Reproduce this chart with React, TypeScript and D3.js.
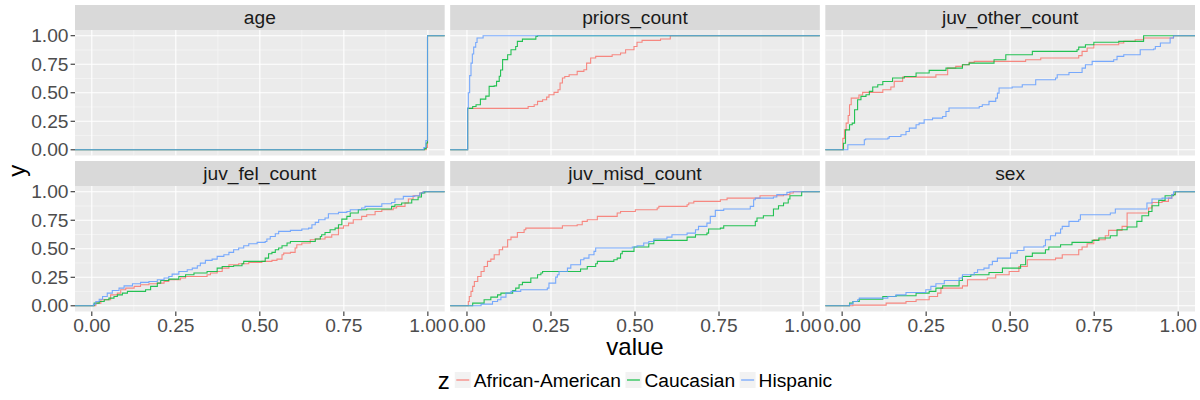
import { useEffect, useRef } from 'react';
import * as d3 from 'd3';

const facets = ['age', 'priors_count', 'juv_other_count', 'juv_fel_count', 'juv_misd_count', 'sex'];
const groups = ['African-American', 'Caucasian', 'Hispanic'];
const groupColors = ['#F8766D', '#00BA38', '#619CFF'];
const tickValues = [0, 0.25, 0.5, 0.75, 1];
const tickLabels = ['0.00', '0.25', '0.50', '0.75', '1.00'];
const minorValues = [0.125, 0.375, 0.625, 0.875];

// ecdf jumps: [value, y after the jump]
const ageAfrican = [[0.995, 0.02], [0.999, 1]];
const ageCaucasian = [[0.99, 0.01], [0.995, 0.06], [0.999, 1]];
const ageHispanic = [[0.988, 0.02], [0.994, 0.08], [0.999, 1]];

const priorsAfrican = [[0.002, 0.363], [0.182, 0.38], [0.2, 0.395], [0.21, 0.424], [0.225, 0.439], [0.237, 0.462], [0.244, 0.482], [0.259, 0.503], [0.271, 0.526], [0.277, 0.585], [0.284, 0.629], [0.291, 0.643], [0.304, 0.658], [0.328, 0.687], [0.348, 0.702], [0.356, 0.76], [0.368, 0.804], [0.383, 0.819], [0.432, 0.833], [0.457, 0.848], [0.472, 0.877], [0.497, 0.906], [0.506, 0.942], [0.521, 0.959], [0.576, 0.971], [0.605, 1]];
const priorsCaucasian = [[0.002, 0.363], [0.017, 0.38], [0.027, 0.395], [0.04, 0.444], [0.056, 0.47], [0.066, 0.556], [0.081, 0.56], [0.088, 0.6], [0.096, 0.645], [0.1, 0.7], [0.106, 0.79], [0.121, 0.833], [0.131, 0.877], [0.145, 0.906], [0.15, 0.95], [0.165, 0.97], [0.205, 0.994], [0.21, 1]];
const priorsHispanic = [[0.002, 0.363], [0.004, 0.5], [0.008, 0.65], [0.012, 0.76], [0.016, 0.84], [0.02, 0.9], [0.026, 0.94], [0.03, 0.98], [0.048, 1]];

const juvOtherAfrican = [[0.002, 0.1], [0.007, 0.175], [0.012, 0.234], [0.018, 0.3], [0.022, 0.395], [0.027, 0.453], [0.05, 0.48], [0.061, 0.503], [0.121, 0.526], [0.145, 0.55], [0.155, 0.6], [0.18, 0.637], [0.279, 0.658], [0.314, 0.716], [0.338, 0.731], [0.358, 0.746], [0.378, 0.766], [0.393, 0.775], [0.546, 0.789], [0.591, 0.804], [0.704, 0.825], [0.714, 0.863], [0.729, 0.892], [0.749, 0.921], [0.823, 0.936], [0.838, 0.95], [0.872, 0.965], [0.897, 0.98], [0.986, 1]];
const juvOtherCaucasian = [[0.004, 0.058], [0.01, 0.175], [0.022, 0.219], [0.03, 0.234], [0.037, 0.351], [0.046, 0.439], [0.056, 0.468], [0.071, 0.482], [0.081, 0.512], [0.091, 0.55], [0.106, 0.57], [0.121, 0.599], [0.15, 0.629], [0.185, 0.643], [0.22, 0.673], [0.259, 0.696], [0.309, 0.716], [0.358, 0.746], [0.378, 0.76], [0.452, 0.789], [0.487, 0.833], [0.566, 0.863], [0.699, 0.877], [0.704, 0.9], [0.724, 0.921], [0.749, 0.942], [0.823, 0.95], [0.897, 1]];
const juvOtherHispanic = [[0.017, 0.044], [0.066, 0.088], [0.07, 0.094], [0.136, 0.102], [0.14, 0.117], [0.175, 0.132], [0.19, 0.161], [0.2, 0.19], [0.22, 0.219], [0.229, 0.234], [0.244, 0.263], [0.269, 0.278], [0.299, 0.292], [0.309, 0.336], [0.318, 0.366], [0.408, 0.38], [0.417, 0.395], [0.437, 0.424], [0.457, 0.453], [0.462, 0.497], [0.467, 0.541], [0.506, 0.55], [0.536, 0.57], [0.576, 0.614], [0.635, 0.629], [0.64, 0.658], [0.675, 0.678], [0.714, 0.716], [0.724, 0.746], [0.744, 0.775], [0.808, 0.789], [0.818, 0.819], [0.838, 0.833], [0.887, 0.877], [0.927, 0.883], [0.932, 0.906], [0.947, 0.936], [0.976, 0.98], [0.986, 1]];

const juvFelAfrican = [[0.012, 0.023], [0.027, 0.053], [0.056, 0.096], [0.076, 0.111], [0.086, 0.14], [0.101, 0.155], [0.126, 0.17], [0.145, 0.184], [0.17, 0.193], [0.195, 0.199], [0.215, 0.213], [0.229, 0.228], [0.264, 0.243], [0.279, 0.257], [0.343, 0.272], [0.353, 0.287], [0.373, 0.301], [0.388, 0.33], [0.408, 0.36], [0.437, 0.368], [0.467, 0.38], [0.506, 0.389], [0.536, 0.398], [0.551, 0.409], [0.566, 0.447], [0.571, 0.462], [0.591, 0.468], [0.605, 0.506], [0.61, 0.535], [0.625, 0.55], [0.65, 0.579], [0.665, 0.585], [0.694, 0.602], [0.714, 0.623], [0.734, 0.681], [0.749, 0.702], [0.764, 0.725], [0.778, 0.754], [0.803, 0.784], [0.818, 0.798], [0.843, 0.827], [0.863, 0.842], [0.897, 0.857], [0.907, 0.871], [0.932, 0.901], [0.942, 0.936], [0.956, 0.965], [0.976, 0.988], [0.986, 1]];
const juvFelCaucasian = [[0.007, 0.023], [0.022, 0.038], [0.037, 0.053], [0.051, 0.067], [0.066, 0.082], [0.076, 0.096], [0.091, 0.111], [0.106, 0.126], [0.16, 0.14], [0.175, 0.17], [0.195, 0.199], [0.205, 0.222], [0.229, 0.234], [0.259, 0.257], [0.279, 0.272], [0.304, 0.287], [0.343, 0.301], [0.373, 0.33], [0.388, 0.345], [0.422, 0.351], [0.447, 0.368], [0.452, 0.389], [0.516, 0.418], [0.526, 0.456], [0.536, 0.468], [0.546, 0.491], [0.556, 0.506], [0.566, 0.526], [0.581, 0.55], [0.591, 0.564], [0.665, 0.585], [0.68, 0.608], [0.684, 0.623], [0.694, 0.643], [0.709, 0.667], [0.724, 0.681], [0.734, 0.711], [0.744, 0.76], [0.759, 0.784], [0.769, 0.813], [0.793, 0.842], [0.818, 0.848], [0.892, 0.871], [0.902, 0.886], [0.922, 0.901], [0.952, 0.93], [0.971, 0.953], [0.981, 0.988], [0.991, 1]];
const juvFelHispanic = [[0.005, 0.015], [0.012, 0.038], [0.022, 0.058], [0.032, 0.082], [0.046, 0.111], [0.061, 0.134], [0.081, 0.155], [0.096, 0.175], [0.121, 0.193], [0.145, 0.205], [0.17, 0.213], [0.195, 0.228], [0.215, 0.243], [0.229, 0.257], [0.239, 0.278], [0.259, 0.301], [0.284, 0.316], [0.299, 0.33], [0.314, 0.351], [0.323, 0.374], [0.338, 0.398], [0.358, 0.409], [0.373, 0.433], [0.393, 0.447], [0.408, 0.468], [0.422, 0.491], [0.437, 0.506], [0.452, 0.526], [0.467, 0.544], [0.492, 0.556], [0.516, 0.564], [0.521, 0.585], [0.531, 0.608], [0.546, 0.632], [0.556, 0.652], [0.591, 0.661], [0.625, 0.673], [0.645, 0.681], [0.655, 0.711], [0.665, 0.731], [0.675, 0.754], [0.694, 0.769], [0.704, 0.807], [0.734, 0.819], [0.759, 0.827], [0.769, 0.842], [0.803, 0.857], [0.813, 0.871], [0.863, 0.895], [0.892, 0.906], [0.902, 0.936], [0.927, 0.959], [0.961, 0.965], [0.976, 0.988], [0.986, 1]];

const juvMisdAfrican = [[0.004, 0.038], [0.007, 0.082], [0.012, 0.126], [0.017, 0.17], [0.022, 0.213], [0.032, 0.257], [0.042, 0.301], [0.051, 0.345], [0.061, 0.389], [0.071, 0.409], [0.081, 0.447], [0.096, 0.491], [0.106, 0.515], [0.121, 0.579], [0.131, 0.602], [0.15, 0.643], [0.17, 0.667], [0.175, 0.681], [0.284, 0.702], [0.328, 0.711], [0.343, 0.74], [0.358, 0.754], [0.388, 0.784], [0.447, 0.813], [0.457, 0.827], [0.501, 0.842], [0.566, 0.857], [0.571, 0.871], [0.655, 0.886], [0.66, 0.901], [0.675, 0.915], [0.754, 0.93], [0.774, 0.944], [0.872, 0.965], [0.942, 0.974], [0.961, 0.988], [0.971, 1]];
const juvMisdCaucasian = [[0.017, 0.023], [0.051, 0.053], [0.071, 0.076], [0.091, 0.096], [0.101, 0.111], [0.136, 0.134], [0.145, 0.155], [0.155, 0.184], [0.165, 0.205], [0.19, 0.243], [0.21, 0.272], [0.22, 0.287], [0.225, 0.301], [0.338, 0.322], [0.358, 0.345], [0.383, 0.368], [0.388, 0.389], [0.437, 0.404], [0.447, 0.418], [0.457, 0.456], [0.462, 0.477], [0.497, 0.515], [0.541, 0.544], [0.556, 0.573], [0.655, 0.602], [0.68, 0.623], [0.714, 0.637], [0.719, 0.673], [0.754, 0.681], [0.764, 0.702], [0.858, 0.74], [0.863, 0.769], [0.882, 0.789], [0.912, 0.848], [0.927, 0.877], [0.942, 0.901], [0.956, 0.936], [0.961, 0.965], [0.996, 1]];
const juvMisdHispanic = [[0.042, 0.015], [0.076, 0.038], [0.091, 0.053], [0.101, 0.076], [0.116, 0.111], [0.131, 0.126], [0.16, 0.14], [0.239, 0.155], [0.244, 0.199], [0.264, 0.251], [0.269, 0.272], [0.274, 0.301], [0.299, 0.33], [0.309, 0.36], [0.338, 0.404], [0.348, 0.418], [0.363, 0.447], [0.378, 0.477], [0.383, 0.506], [0.492, 0.515], [0.506, 0.526], [0.526, 0.55], [0.541, 0.564], [0.556, 0.585], [0.595, 0.602], [0.61, 0.623], [0.655, 0.637], [0.68, 0.667], [0.689, 0.696], [0.714, 0.725], [0.724, 0.784], [0.739, 0.836], [0.764, 0.848], [0.843, 0.871], [0.853, 0.93], [0.858, 0.944], [0.912, 0.953], [0.922, 0.974], [0.952, 0.994], [0.961, 1]];

const sexAfrican = [[0.032, 0.006], [0.131, 0.023], [0.19, 0.038], [0.22, 0.053], [0.259, 0.082], [0.284, 0.111], [0.294, 0.155], [0.358, 0.175], [0.373, 0.228], [0.432, 0.243], [0.457, 0.272], [0.497, 0.301], [0.526, 0.345], [0.551, 0.404], [0.635, 0.418], [0.655, 0.447], [0.704, 0.491], [0.714, 0.515], [0.729, 0.544], [0.749, 0.579], [0.783, 0.614], [0.793, 0.661], [0.833, 0.696], [0.848, 0.813], [0.912, 0.857], [0.922, 0.906], [0.952, 0.915], [0.971, 0.944], [0.981, 0.974], [0.991, 1]];
const sexCaucasian = [[0.022, 0.023], [0.032, 0.038], [0.051, 0.058], [0.121, 0.082], [0.16, 0.088], [0.22, 0.111], [0.259, 0.126], [0.279, 0.155], [0.299, 0.175], [0.348, 0.222], [0.358, 0.257], [0.383, 0.272], [0.437, 0.292], [0.477, 0.33], [0.531, 0.36], [0.546, 0.433], [0.566, 0.462], [0.605, 0.491], [0.615, 0.515], [0.65, 0.535], [0.684, 0.556], [0.744, 0.573], [0.764, 0.594], [0.798, 0.614], [0.818, 0.667], [0.848, 0.69], [0.877, 0.74], [0.892, 0.789], [0.912, 0.827], [0.922, 0.877], [0.942, 0.924], [0.961, 0.965], [0.986, 0.974], [0.991, 1]];
const sexHispanic = [[0.022, 0.015], [0.032, 0.038], [0.046, 0.053], [0.051, 0.067], [0.136, 0.082], [0.16, 0.096], [0.19, 0.117], [0.249, 0.14], [0.264, 0.17], [0.279, 0.193], [0.304, 0.222], [0.348, 0.243], [0.358, 0.272], [0.393, 0.292], [0.403, 0.316], [0.422, 0.33], [0.437, 0.36], [0.447, 0.389], [0.462, 0.418], [0.501, 0.462], [0.521, 0.485], [0.541, 0.515], [0.6, 0.526], [0.605, 0.579], [0.62, 0.614], [0.635, 0.637], [0.65, 0.673], [0.655, 0.696], [0.675, 0.74], [0.704, 0.754], [0.709, 0.798], [0.798, 0.813], [0.813, 0.848], [0.907, 0.901], [0.922, 0.936], [0.952, 0.944], [0.981, 0.974], [0.986, 1]];

const series = [
  [ageAfrican, ageCaucasian, ageHispanic],
  [priorsAfrican, priorsCaucasian, priorsHispanic],
  [juvOtherAfrican, juvOtherCaucasian, juvOtherHispanic],
  [juvFelAfrican, juvFelCaucasian, juvFelHispanic],
  [juvMisdAfrican, juvMisdCaucasian, juvMisdHispanic],
  [sexAfrican, sexCaucasian, sexHispanic],
];

const FONT = '"Liberation Sans", Arial, Helvetica, sans-serif';

export default function App() {
  const ref = useRef<SVGSVGElement>(null);

  useEffect(() => {
    document.body.style.margin = '0';
    const svg = d3.select(ref.current);
    svg.selectAll('*').remove();

    const left = 75, right = 1195, top = 5;
    const stripH = 25, panelH = 125.5, gap = 5.5;
    const panelW = (right - left - 2 * gap) / 3;

    const x = d3.scaleLinear().domain([-0.05, 1.05]).range([0, panelW]);
    const y = d3.scaleLinear().domain([-0.05, 1.05]).range([panelH, 0]);
    const line = d3.line<number[]>()
      .x(d => x(d[0]))
      .y(d => y(d[1]))
      .curve(d3.curveStepAfter);

    facets.forEach((name, i) => {
      const col = i % 3, row = Math.floor(i / 3);
      const px = left + col * (panelW + gap);
      const py = top + row * (stripH + panelH + gap);

      const g = svg.append('g').attr('transform', `translate(${px},${py})`);
      // strip
      g.append('rect').attr('width', panelW).attr('height', stripH).attr('fill', '#D9D9D9');
      g.append('text')
        .attr('x', panelW / 2).attr('y', stripH / 2).attr('dy', '0.35em')
        .attr('text-anchor', 'middle')
        .attr('font-size', 19.2).attr('fill', '#1A1A1A')
        .text(name);

      const p = g.append('g').attr('transform', `translate(0,${stripH})`);
      p.append('rect').attr('width', panelW).attr('height', panelH).attr('fill', '#EBEBEB');

      minorValues.forEach(v => {
        p.append('line').attr('x1', x(v)).attr('x2', x(v)).attr('y1', 0).attr('y2', panelH)
          .attr('stroke', '#FAFAFA').attr('stroke-width', 0.55);
        p.append('line').attr('y1', y(v)).attr('y2', y(v)).attr('x1', 0).attr('x2', panelW)
          .attr('stroke', '#FAFAFA').attr('stroke-width', 0.55);
      });
      tickValues.forEach(v => {
        p.append('line').attr('x1', x(v)).attr('x2', x(v)).attr('y1', 0).attr('y2', panelH)
          .attr('stroke', '#FFFFFF').attr('stroke-width', 1.1);
        p.append('line').attr('y1', y(v)).attr('y2', y(v)).attr('x1', 0).attr('x2', panelW)
          .attr('stroke', '#FFFFFF').attr('stroke-width', 1.1);
      });

      series[i].forEach((steps, k) => {
        const pts = [[-0.05, 0], ...steps, [1.05, 1]];
        p.append('path')
          .attr('d', line(pts))
          .attr('fill', 'none')
          .attr('stroke', groupColors[k])
          .attr('stroke-opacity', 0.85)
          .attr('stroke-width', 1.1);
      });

      if (col === 0) {
        tickValues.forEach((v, t) => {
          p.append('line').attr('x1', -4.4).attr('x2', 0).attr('y1', y(v)).attr('y2', y(v))
            .attr('stroke', '#333333').attr('stroke-width', 1.1);
          p.append('text')
            .attr('x', -6.5).attr('y', y(v)).attr('dy', '0.34em')
            .attr('text-anchor', 'end')
            .attr('font-size', 19.2).attr('fill', '#4D4D4D')
            .text(tickLabels[t]);
        });
      }
      if (row === 1) {
        tickValues.forEach((v, t) => {
          p.append('line').attr('x1', x(v)).attr('x2', x(v)).attr('y1', panelH).attr('y2', panelH + 4.4)
            .attr('stroke', '#333333').attr('stroke-width', 1.1);
          p.append('text')
            .attr('x', x(v)).attr('y', panelH + 6.5).attr('dy', '0.72em')
            .attr('text-anchor', 'middle')
            .attr('font-size', 19.2).attr('fill', '#4D4D4D')
            .text(tickLabels[t]);
        });
      }
    });

    const panelsBottom = top + 2 * (stripH + panelH) + gap;
    // axis titles
    svg.append('text')
      .attr('x', (left + right) / 2).attr('y', 355)
      .attr('text-anchor', 'middle').attr('font-size', 24).attr('fill', '#000')
      .text('value');
    svg.append('text')
      .attr('transform', `translate(25,${(top + stripH + panelsBottom) / 2}) rotate(-90)`)
      .attr('text-anchor', 'middle').attr('font-size', 24).attr('fill', '#000')
      .text('y');

    // legend
    const lg = svg.append('g');
    const ly = 380;
    const title = lg.append('text').attr('y', ly + 8.5).attr('font-size', 24).text('z');
    let cx = (title.node() as SVGTextElement).getComputedTextLength() + 5;
    groups.forEach((gname, k) => {
      lg.append('rect').attr('x', cx).attr('y', ly - 8).attr('width', 16).attr('height', 16)
        .attr('fill', '#F2F2F2');
      lg.append('line').attr('x1', cx + 1.5).attr('x2', cx + 14.5).attr('y1', ly).attr('y2', ly)
        .attr('stroke', groupColors[k]).attr('stroke-width', 1.1);
      const t = lg.append('text').attr('x', cx + 19).attr('y', ly + 6.5)
        .attr('font-size', 19.2).attr('fill', '#000').text(gname);
      cx += 19 + (t.node() as SVGTextElement).getComputedTextLength() + 4.5;
    });
    const totalW = cx - 4.5;
    lg.attr('transform', `translate(${(left + right) / 2 - totalW / 2},0)`);
  }, []);

  return (
    <svg ref={ref} width={1200} height={400} style={{ display: 'block', background: '#fff', fontFamily: FONT }} />
  );
}
